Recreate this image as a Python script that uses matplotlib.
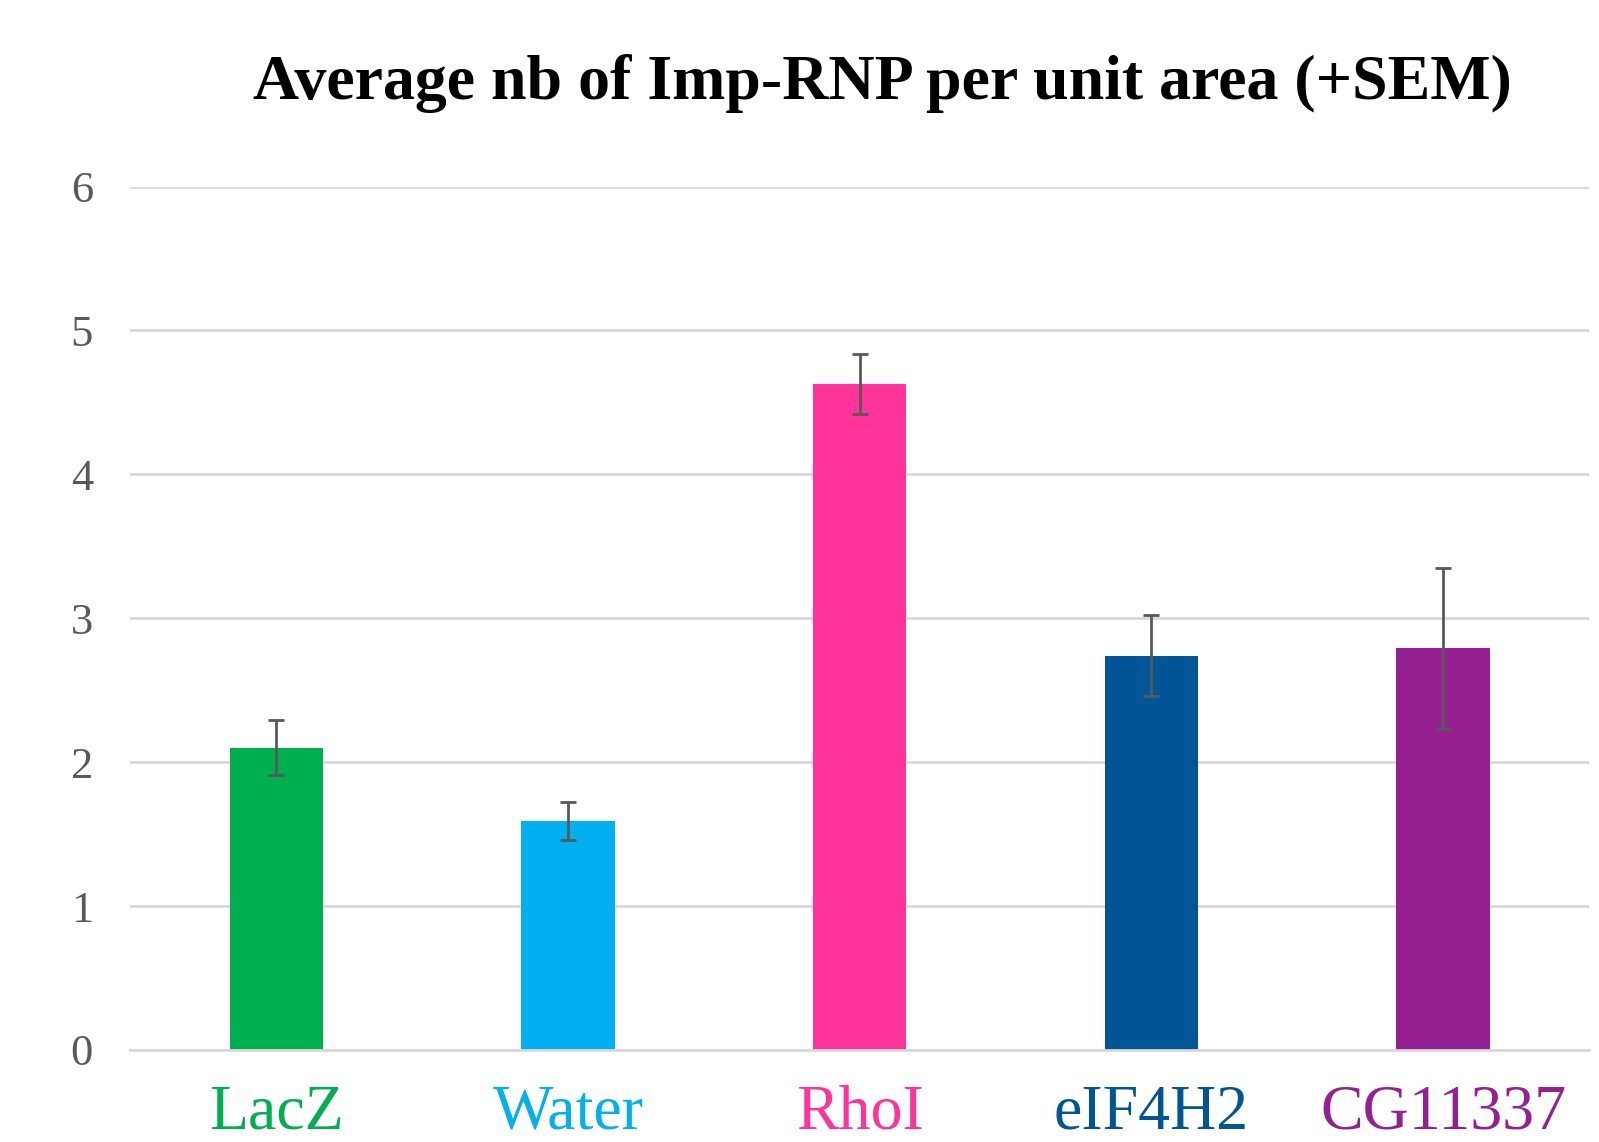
import numpy as np
import matplotlib
matplotlib.use("Agg")
from matplotlib import pyplot as plt

# data
categories = ["LacZ", "Water", "RhoI", "eIF4H2", "CG11337"]
means = [2.10, 1.59, 4.63, 2.74, 2.79]
sem = [0.19, 0.13, 0.21, 0.28, 0.56]
colors = ["#00B050", "#00B0F0", "#FF3399", "#005597", "#942092"]
yticks = [0, 1, 2, 3, 4, 5, 6]

plt.rcParams['font.family'] = ['Liberation Serif', 'DejaVu Serif']

fig = plt.figure(figsize=(15.99, 11.42), dpi=100)
ax = fig.add_axes([0.0816, 0.0806, 0.9121, 0.756])

x = np.arange(len(categories))
ax.bar(x, means, width=0.32, color=colors, zorder=2)
ax.errorbar(x, means, yerr=sem, fmt="none", ecolor="#595959",
            elinewidth=2, capsize=6, capthick=2, zorder=3)

ax.set_xlim(-0.5, len(categories) - 0.5)
ax.set_ylim(0, 6)
ax.set_yticks(yticks)
ax.set_yticklabels([str(t) for t in yticks])
ax.yaxis.grid(True, color="#D9D9D9", linewidth=2, zorder=0)
ax.set_axisbelow(True)
ax.tick_params(axis="y", length=0, pad=27, labelsize=32, labelcolor="#595959")

ax.set_xticks(x)
ax.set_xticklabels(categories, fontsize=46)
for lbl, c in zip(ax.get_xticklabels(), colors):
    lbl.set_color(c)
ax.tick_params(axis="x", length=0, pad=25)

for s in ["top", "right", "left"]:
    ax.spines[s].set_visible(False)
ax.spines["bottom"].set_color("#D9D9D9")
ax.spines["bottom"].set_linewidth(2)

fig.text(0.552, 0.927, "Average nb of Imp-RNP per unit area (+SEM)",
         ha="center", va="center", fontsize=46, fontweight="bold")

fig.savefig("out.png", dpi=100)
